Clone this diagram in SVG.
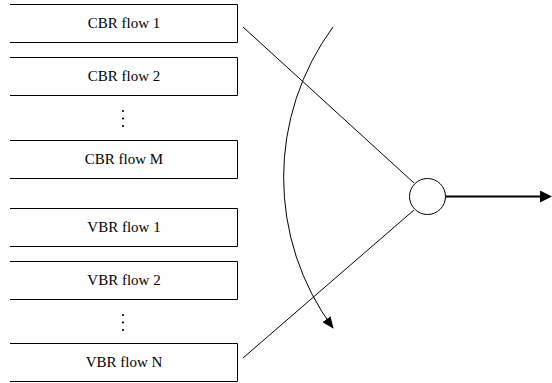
<svg xmlns="http://www.w3.org/2000/svg" width="552" height="383" viewBox="0 0 552 383">
<style>
.box{fill:none;stroke:#000;stroke-width:1}
.lbl{font-family:"Liberation Serif","Times New Roman",serif;font-size:15px;fill:#000;text-anchor:middle}
.ln{fill:none;stroke:#000;stroke-width:1}
.dot{fill:#000}
</style>
<defs>
<marker id="ah" markerWidth="12" markerHeight="10" refX="11" refY="5" orient="auto" markerUnits="userSpaceOnUse">
<path d="M0,0 L12,5 L0,10 Z" fill="#000"/>
</marker>
<marker id="ah2" markerWidth="12" markerHeight="12" refX="8" refY="6" orient="auto" markerUnits="userSpaceOnUse">
<path d="M0,0 L12,6 L0,12 Z" fill="#000"/>
</marker>
</defs>
<rect width="552" height="383" fill="#fff"/>
<g id="cbr1"><path class="box" d="M10,4.5 H237.5 V42.5 H10"/><text class="lbl" x="124" y="28">CBR flow 1</text></g>
<g id="cbr2"><path class="box" d="M10,57.5 H237.5 V95.5 H10"/><text class="lbl" x="124" y="81">CBR flow 2</text></g>
<g id="cbrdots"><circle class="dot" cx="123" cy="111" r="1.1"/><circle class="dot" cx="123" cy="118.5" r="1.1"/><circle class="dot" cx="123" cy="126" r="1.1"/></g>
<g id="cbrM"><path class="box" d="M10,140.5 H237.5 V178.5 H10"/><text class="lbl" x="124" y="164">CBR flow M</text></g>
<g id="vbr1"><path class="box" d="M10,208.5 H237.5 V246.5 H10"/><text class="lbl" x="124" y="232">VBR flow 1</text></g>
<g id="vbr2"><path class="box" d="M10,261.5 H237.5 V299.5 H10"/><text class="lbl" x="124" y="285">VBR flow 2</text></g>
<g id="vbrdots"><circle class="dot" cx="123" cy="315" r="1.1"/><circle class="dot" cx="123" cy="322.5" r="1.1"/><circle class="dot" cx="123" cy="330" r="1.1"/></g>
<g id="vbrN"><path class="box" d="M10,343.5 H237.5 V381.5 H10"/><text class="lbl" x="124" y="367">VBR flow N</text></g>
<g id="mux"><circle cx="427.5" cy="196.5" r="18" fill="#fff" stroke="#000" stroke-width="1"/></g>
<g id="connectors">
<line class="ln" x1="243" y1="27" x2="414" y2="183"/>
<line class="ln" x1="243" y1="358" x2="414" y2="210"/>
<line x1="445.5" y1="196.5" x2="548" y2="196.5" stroke="#000" stroke-width="2" marker-end="url(#ah2)"/>
<path class="ln" d="M333,27 A254,254 0 0 0 333,328" marker-end="url(#ah)"/>
</g>
</svg>
